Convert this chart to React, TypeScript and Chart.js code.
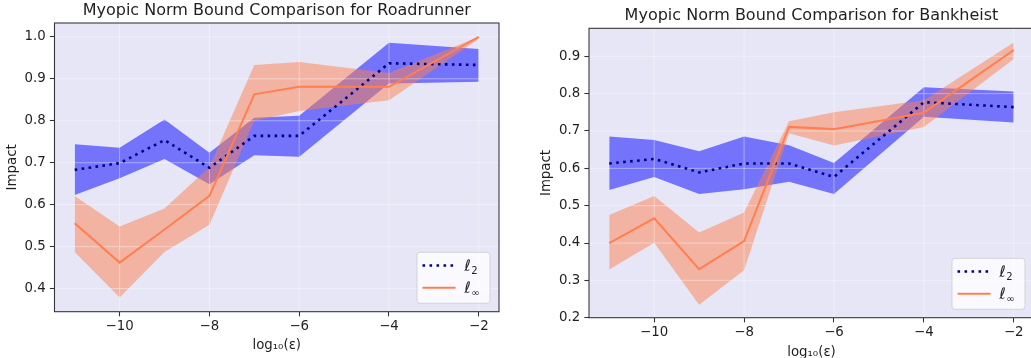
import React, { useEffect, useRef } from "react";
import { Chart, registerables } from "chart.js";

Chart.register(...registerables);

// ---- data ----
const xs = [-11, -10, -9, -8, -7, -6, -4, -2];
const xTicks = [-10, -8, -6, -4, -2];

const rrL2Mean = [0.683, 0.699, 0.754, 0.688, 0.764, 0.764, 0.937, 0.933];
const rrL2Upper = [0.744, 0.736, 0.803, 0.724, 0.807, 0.812, 0.986, 0.971];
const rrL2Lower = [0.623, 0.663, 0.709, 0.649, 0.718, 0.714, 0.889, 0.893];
const rrLinfMean = [0.556, 0.462, 0.541, 0.621, 0.863, 0.881, 0.881, 1.0];
const rrLinfUpper = [0.621, 0.548, 0.591, 0.69, 0.933, 0.94, 0.914, 1.0];
const rrLinfLower = [0.487, 0.379, 0.487, 0.552, 0.8, 0.823, 0.849, 0.995];
const rrYTicks = [0.4, 0.5, 0.6, 0.7, 0.8, 0.9, 1.0];

const bhL2Mean = [0.613, 0.625, 0.589, 0.613, 0.613, 0.577, 0.777, 0.764];
const bhL2Upper = [0.685, 0.676, 0.646, 0.685, 0.662, 0.614, 0.817, 0.806];
const bhL2Lower = [0.542, 0.577, 0.531, 0.544, 0.564, 0.531, 0.738, 0.723];
const bhLinfMean = [0.4, 0.466, 0.33, 0.405, 0.711, 0.705, 0.749, 0.917];
const bhLinfUpper = [0.475, 0.526, 0.428, 0.482, 0.726, 0.75, 0.782, 0.937];
const bhLinfLower = [0.329, 0.401, 0.235, 0.327, 0.694, 0.661, 0.711, 0.893];
const bhYTicks = [0.2, 0.3, 0.4, 0.5, 0.6, 0.7, 0.8, 0.9];

const legendMain = ["ℓ", "ℓ"];
const legendSub = ["2", "∞"];
const yAxisLabel = "Impact";
const xAxisLabel = "log₁₀(ε)";

// ---- styles ----
const FONT = "'DejaVu Sans', sans-serif";
const TEXT = "#1f1f1f";
const SPINE = "#333333";
const BG = "#e6e6f7";
const GRID = "rgba(255,255,255,0.5)";
const NAVY = "#000080";
const CORAL = "#ff7f50";
const BLUE_BAND = "rgba(0,0,255,0.5)";
const CORAL_BAND = "rgba(255,127,80,0.5)";

type Spec = {
  title: string;
  left: number;
  width: number;
  height: number;
  padRight: number;
  titlePadTop: number;
  titlePadBottom: number;
  yWidth: number;
  xHeight: number;
  yTitlePad: number;
  xTitlePad: number;
  xMin: number;
  xMax: number;
  yMin: number;
  yMax: number;
  yTicks: number[];
  l2Mean: number[];
  l2Upper: number[];
  l2Lower: number[];
  linfMean: number[];
  linfUpper: number[];
  linfLower: number[];
};

const specs: Spec[] = [
  {
    title: "Myopic Norm Bound Comparison for Roadrunner",
    left: 0,
    width: 515,
    height: 358,
    padRight: 16,
    titlePadTop: 1.1,
    titlePadBottom: 2.7,
    yWidth: 54.5,
    xHeight: 46.3,
    yTitlePad: 4.5,
    xTitlePad: 4,
    xMin: -11.45,
    xMax: -1.55,
    yMin: 0.345,
    yMax: 1.033,
    yTicks: rrYTicks,
    l2Mean: rrL2Mean,
    l2Upper: rrL2Upper,
    l2Lower: rrL2Lower,
    linfMean: rrLinfMean,
    linfUpper: rrLinfUpper,
    linfLower: rrLinfLower,
  },
  {
    title: "Myopic Norm Bound Comparison for Bankheist",
    left: 515,
    width: 540,
    height: 372,
    padRight: 21,
    titlePadTop: 6.6,
    titlePadBottom: 2.5,
    yWidth: 74,
    xHeight: 54.3,
    yTitlePad: 23.7,
    xTitlePad: 11.3,
    xMin: -11.45,
    xMax: -1.55,
    yMin: 0.2,
    yMax: 0.975,
    yTicks: bhYTicks,
    l2Mean: bhL2Mean,
    l2Upper: bhL2Upper,
    l2Lower: bhL2Lower,
    linfMean: bhLinfMean,
    linfUpper: bhLinfUpper,
    linfLower: bhLinfLower,
  },
];

const pts = (ys: number[]) => xs.map((x, i) => ({ x, y: ys[i] }));
const fmtX = (v: number) => (v < 0 ? "\u2212" : "") + Math.abs(v);

function roundRectPath(ctx: CanvasRenderingContext2D, x: number, y: number, w: number, h: number, r: number) {
  ctx.beginPath();
  ctx.moveTo(x + r, y);
  ctx.lineTo(x + w - r, y);
  ctx.arcTo(x + w, y, x + w, y + r, r);
  ctx.lineTo(x + w, y + h - r);
  ctx.arcTo(x + w, y + h, x + w - r, y + h, r);
  ctx.lineTo(x + r, y + h);
  ctx.arcTo(x, y + h, x, y + h - r, r);
  ctx.lineTo(x, y + r);
  ctx.arcTo(x, y, x + r, y, r);
  ctx.closePath();
}

function ChartPanel({ spec }: { spec: Spec }) {
  const ref = useRef<HTMLCanvasElement>(null);

  useEffect(() => {
    const bgPlugin = {
      id: "bg",
      beforeDraw(chart: any) {
        const { ctx, chartArea: a } = chart;
        ctx.save();
        ctx.fillStyle = BG;
        ctx.fillRect(a.left, a.top, a.right - a.left, a.bottom - a.top);
        ctx.restore();
      },
    };
    const gridPlugin = {
      id: "gridOver",
      beforeDatasetsDraw(chart: any) {
        const { ctx, chartArea: a, scales } = chart;
        ctx.save();
        ctx.strokeStyle = GRID;
        ctx.lineWidth = 0.8;
        ctx.beginPath();
        for (const v of xTicks) {
          const px = scales.x.getPixelForValue(v);
          ctx.moveTo(px, a.top);
          ctx.lineTo(px, a.bottom);
        }
        for (const v of spec.yTicks) {
          const py = scales.y.getPixelForValue(v);
          if (py <= a.top + 0.5 || py >= a.bottom - 0.5) continue;
          ctx.moveTo(a.left, py);
          ctx.lineTo(a.right, py);
        }
        ctx.stroke();
        ctx.restore();
      },
    };
    const framePlugin = {
      id: "frameLegend",
      afterDraw(chart: any) {
        const { ctx, chartArea: a } = chart;
        ctx.save();
        ctx.strokeStyle = SPINE;
        ctx.lineWidth = 1.07;
        ctx.strokeRect(a.left, a.top, a.right - a.left, a.bottom - a.top);

        // legend
        const w = 73;
        const h = 51;
        const bx = a.right - 9 - w;
        const by = a.bottom - 8.4 - h;
        roundRectPath(ctx, bx, by, w, h, 3);
        ctx.fillStyle = "rgba(255,255,255,0.8)";
        ctx.fill();
        ctx.strokeStyle = "rgba(204,204,204,0.8)";
        ctx.lineWidth = 1;
        ctx.stroke();

        const rows = [by + 13.2, by + 35.5];
        ctx.lineCap = "butt";
        ctx.strokeStyle = NAVY;
        ctx.lineWidth = 2.6;
        ctx.setLineDash([2.6, 4.4]);
        ctx.beginPath();
        ctx.moveTo(bx + 5.5, rows[0]);
        ctx.lineTo(bx + 38.5, rows[0]);
        ctx.stroke();
        ctx.setLineDash([]);
        ctx.strokeStyle = CORAL;
        ctx.lineWidth = 2;
        ctx.beginPath();
        ctx.moveTo(bx + 5.5, rows[1]);
        ctx.lineTo(bx + 38.5, rows[1]);
        ctx.stroke();

        ctx.fillStyle = TEXT;
        ctx.textBaseline = "alphabetic";
        ctx.textAlign = "left";
        for (let i = 0; i < 2; i++) {
          const tx = bx + 47.5;
          ctx.font = `italic 15.5px ${FONT}`;
          ctx.fillText(legendMain[i], tx, rows[i] + 5.3);
          const mw = ctx.measureText(legendMain[i]).width;
          ctx.font = `10px ${FONT}`;
          ctx.fillText(legendSub[i], tx + mw + 0.3, rows[i] + 8.6);
        }
        ctx.restore();
      },
    };

    const bandBase = { borderWidth: 0, borderColor: "rgba(0,0,0,0)", pointRadius: 0 };
    const chart = new Chart(ref.current as HTMLCanvasElement, {
      type: "line",
      data: {
        datasets: [
          { ...bandBase, data: pts(spec.l2Upper), fill: "+1", backgroundColor: BLUE_BAND, order: 4 },
          { ...bandBase, data: pts(spec.l2Lower), fill: false, order: 4 },
          { ...bandBase, data: pts(spec.linfUpper), fill: "+1", backgroundColor: CORAL_BAND, order: 3 },
          { ...bandBase, data: pts(spec.linfLower), fill: false, order: 3 },
          {
            data: pts(spec.l2Mean),
            borderColor: NAVY,
            borderWidth: 2.6,
            borderDash: [2.6, 4.4],
            borderCapStyle: "butt",
            pointRadius: 0,
            fill: false,
            order: 2,
          },
          {
            data: pts(spec.linfMean),
            borderColor: CORAL,
            borderWidth: 2,
            pointRadius: 0,
            fill: false,
            order: 1,
          },
        ] as any,
      },
      options: {
        responsive: false,
        animation: false,
        events: [],
        layout: { padding: { left: 0, right: spec.padRight, top: 0, bottom: 0 } },
        plugins: {
          legend: { display: false },
          tooltip: { enabled: false },
          filler: { drawTime: "beforeDatasetsDraw", propagate: false },
          title: {
            display: true,
            text: spec.title,
            fullSize: false,
            color: TEXT,
            font: { family: FONT, size: 16, weight: "normal", lineHeight: 1.2 },
            padding: { top: spec.titlePadTop, bottom: spec.titlePadBottom },
          },
        },
        scales: {
          x: {
            type: "linear",
            min: spec.xMin,
            max: spec.xMax,
            afterBuildTicks: (s: any) => {
              s.ticks = xTicks.map((v) => ({ value: v }));
            },
            afterFit: (s: any) => {
              s.height = spec.xHeight;
            },
            grid: { drawOnChartArea: false, tickLength: 4.67, tickColor: SPINE, tickWidth: 1.07 },
            border: { display: false },
            ticks: {
              padding: 2.33,
              autoSkip: false,
              maxRotation: 0,
              color: TEXT,
              font: { family: FONT, size: 13.33, lineHeight: 1.2 },
              callback: (v: any) => fmtX(Number(v)),
            },
            title: {
              display: true,
              text: xAxisLabel,
              color: TEXT,
              font: { family: FONT, size: 13.33, lineHeight: 1.2 },
              padding: { top: 0, bottom: spec.xTitlePad },
            },
          },
          y: {
            type: "linear",
            min: spec.yMin,
            max: spec.yMax,
            afterBuildTicks: (s: any) => {
              s.ticks = spec.yTicks.map((v) => ({ value: v }));
            },
            afterFit: (s: any) => {
              s.width = spec.yWidth;
            },
            grid: { drawOnChartArea: false, tickLength: 4.67, tickColor: SPINE, tickWidth: 1.07 },
            border: { display: false },
            ticks: {
              padding: 4.1,
              autoSkip: false,
              color: TEXT,
              font: { family: FONT, size: 13.33, lineHeight: 1.2 },
              callback: (v: any) => Number(v).toFixed(1),
            },
            title: {
              display: true,
              text: yAxisLabel,
              color: TEXT,
              font: { family: FONT, size: 13.33, lineHeight: 1.2 },
              padding: { top: spec.yTitlePad, bottom: 0 },
            },
          },
        },
      } as any,
      plugins: [bgPlugin, gridPlugin, framePlugin],
    });
    return () => chart.destroy();
  }, [spec]);

  return (
    <canvas
      ref={ref}
      width={spec.width}
      height={spec.height}
      style={{ position: "absolute", left: spec.left, top: 0, width: spec.width, height: spec.height }}
    />
  );
}

export default function App() {
  return (
    <div
      style={{
        position: "fixed",
        left: 0,
        top: 0,
        width: 1031,
        height: 358,
        overflow: "hidden",
        background: "#ffffff",
      }}
    >
      {specs.map((s) => (
        <ChartPanel key={s.title} spec={s} />
      ))}
    </div>
  );
}
